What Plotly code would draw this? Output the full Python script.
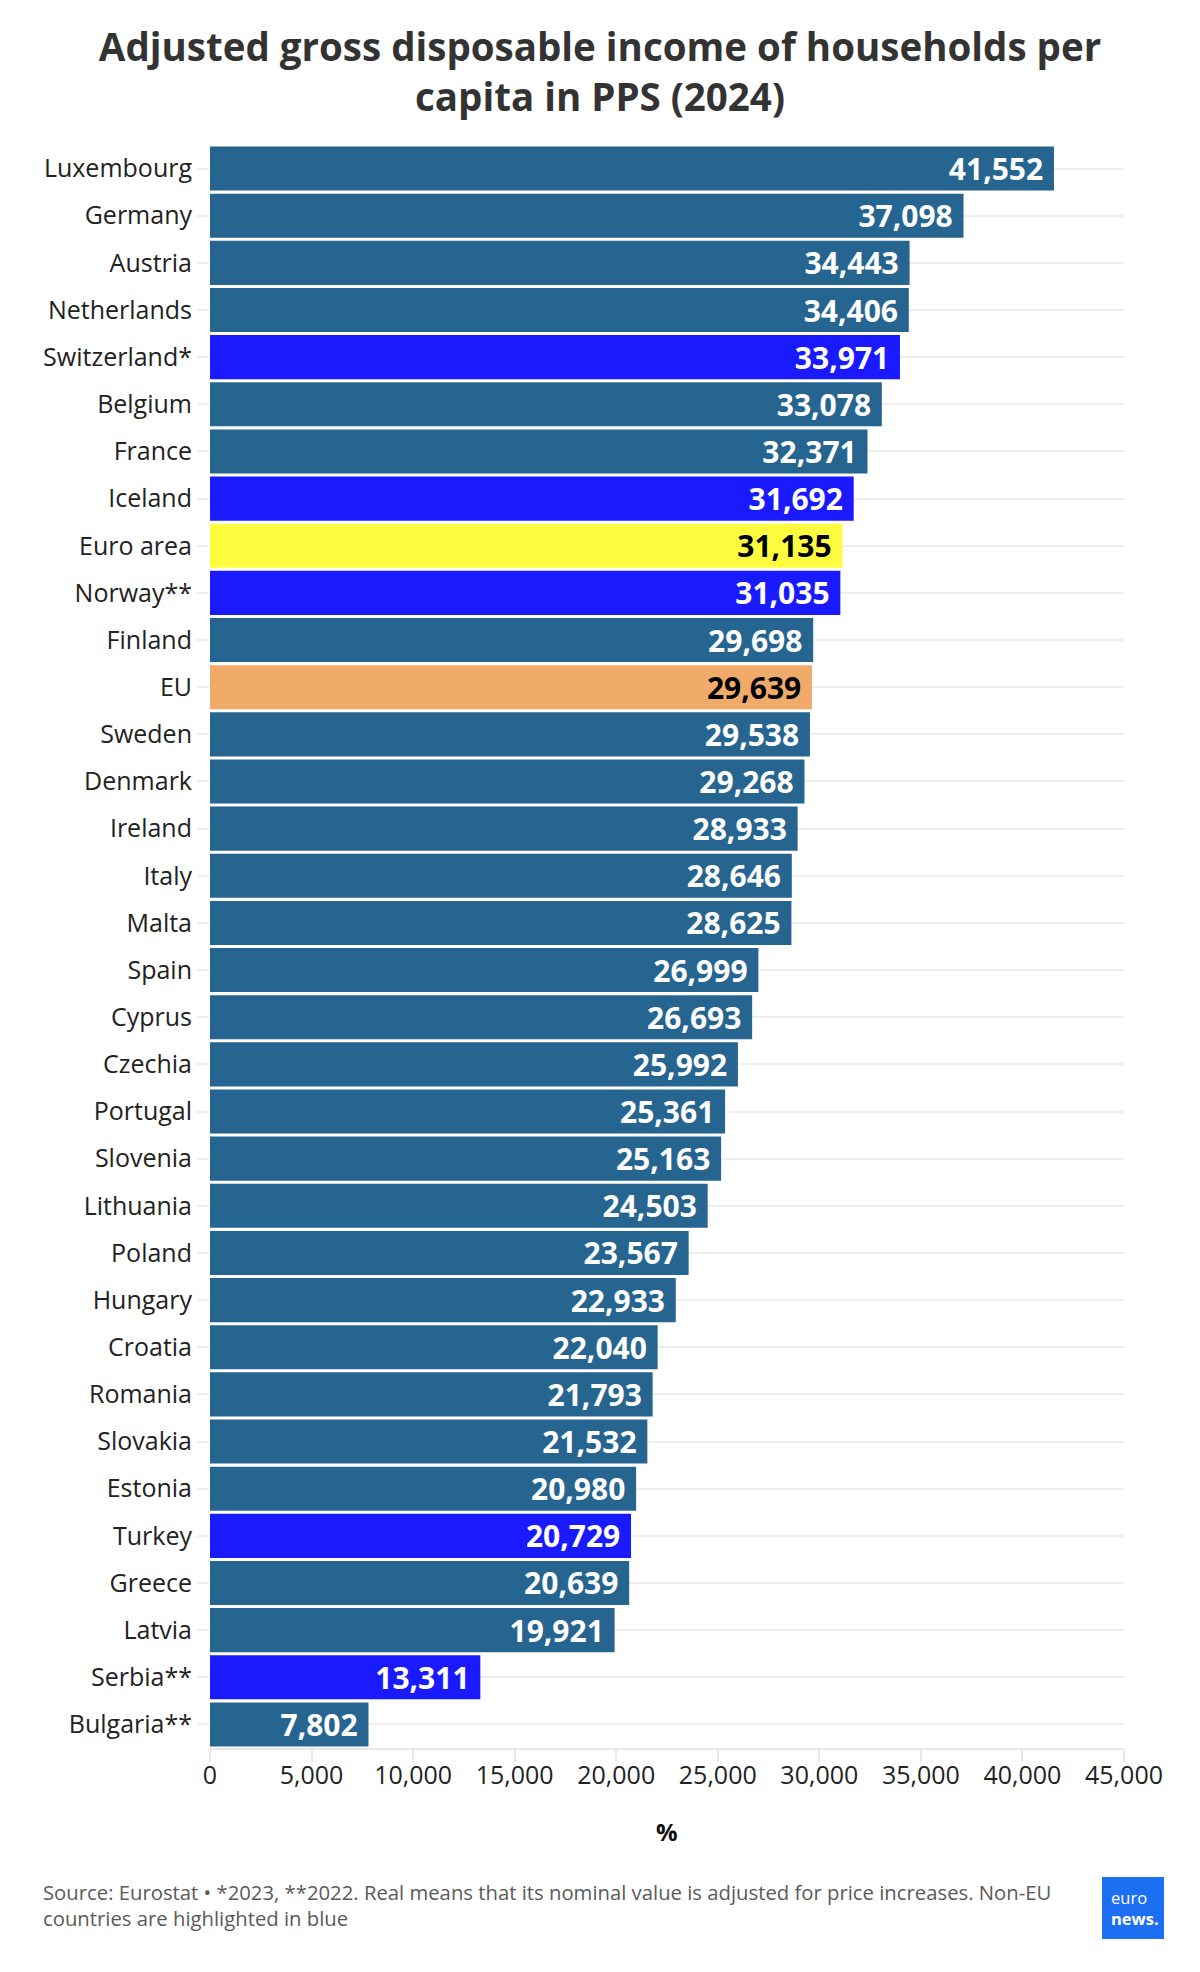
import plotly.graph_objects as go

countries = ["Luxembourg", "Germany", "Austria", "Netherlands", "Switzerland*", "Belgium",
             "France", "Iceland", "Euro area", "Norway**", "Finland", "EU", "Sweden", "Denmark",
             "Ireland", "Italy", "Malta", "Spain", "Cyprus", "Czechia", "Portugal", "Slovenia",
             "Lithuania", "Poland", "Hungary", "Croatia", "Romania", "Slovakia", "Estonia",
             "Turkey", "Greece", "Latvia", "Serbia**", "Bulgaria**"]
values = [41552, 37098, 34443, 34406, 33971, 33078, 32371, 31692, 31135, 31035, 29698, 29639,
          29538, 29268, 28933, 28646, 28625, 26999, 26693, 25992, 25361, 25163, 24503, 23567,
          22933, 22040, 21793, 21532, 20980, 20729, 20639, 19921, 13311, 7802]
non_eu = ["Switzerland*", "Iceland", "Norway**", "Turkey", "Serbia**"]
x_ticks = [0, 5000, 10000, 15000, 20000, 25000, 30000, 35000, 40000, 45000]

C_DEFAULT = "#276591"
C_NONEU = "#1a1aff"
C_EA = "#fdfc3f"
C_EU = "#f0aa6a"

colors, tcolors = [], []
for c in countries:
    if c == "Euro area":
        colors.append(C_EA); tcolors.append("#000000")
    elif c == "EU":
        colors.append(C_EU); tcolors.append("#000000")
    elif c in non_eu:
        colors.append(C_NONEU); tcolors.append("#ffffff")
    else:
        colors.append(C_DEFAULT); tcolors.append("#ffffff")

FONT = "Open Sans"

fig = go.Figure(go.Bar(
    x=values, y=countries, orientation="h",
    marker=dict(color=colors, line=dict(width=0)),
    text=[f"{v:,} " for v in values],
    textposition="inside", insidetextanchor="end", constraintext="none",
    textfont=dict(family=FONT, size=30, color=tcolors, weight="bold"),
    cliponaxis=False,
))

fig.update_layout(
    width=1200, height=1972,
    margin=dict(l=210, r=76, t=145, b=224),
    paper_bgcolor="white", plot_bgcolor="white",
    bargap=0.065,
    showlegend=False,
    font=dict(family=FONT, color="#222222"),
    title=dict(
        text="<b>Adjusted gross disposable income of households per<br>capita in PPS (2024)</b>",
        x=0.5, xanchor="center", xref="container",
        y=1 - 61 / 1972, yanchor="middle", yref="container",
        font=dict(family=FONT, size=38.5, color="#333333"),
    ),
    xaxis=dict(
        range=[0, 45000], tickvals=x_ticks, tickformat=",",
        showgrid=False, zeroline=False,
        showline=True, linecolor="#e8e8e8", linewidth=2,
        ticks="outside", ticklen=12, tickcolor="#e8e8e8", tickwidth=2,
        ticklabelstandoff=-8,
        tickfont=dict(family=FONT, size=25, color="#222222"),
    ),
    yaxis=dict(
        categoryorder="array", categoryarray=countries[::-1],
        showgrid=True, gridcolor="#eeeeee", gridwidth=2,
        ticks="outside", ticklen=12, tickcolor="#eeeeee", tickwidth=2,
        tickfont=dict(family=FONT, size=25, color="#222222"),
        showline=False, zeroline=False,
    ),
)

fig.add_annotation(
    text="<b>%</b>", xref="paper", yref="paper", x=0.5, y=-83 / 1603,
    xanchor="center", yanchor="middle", showarrow=False,
    font=dict(family=FONT, size=24, color="#111111"),
)

fig.add_annotation(
    text="Source: Eurostat • *2023, **2022. Real means that its nominal value is adjusted for price increases. Non-EU<br>countries are highlighted in blue",
    xref="paper", yref="paper", x=(41 - 210) / 914, y=-(1876 - 1748) / 1603,
    xanchor="left", yanchor="top", align="left", showarrow=False,
    font=dict(family=FONT, size=20.3, color="#5a5a5a"),
)

# euronews logo
fig.add_shape(type="rect", xref="paper", yref="paper",
              x0=(1102 - 210) / 914, x1=(1164 - 210) / 914,
              y0=-(1939 - 1748) / 1603, y1=-(1877 - 1748) / 1603,
              fillcolor="#1c6ef2", line=dict(width=0))
fig.add_annotation(
    text="euro<br><b>news.</b>", xref="paper", yref="paper",
    x=(1109 - 210) / 914, y=-(1908 - 1748) / 1603,
    xanchor="left", yanchor="middle", align="left", showarrow=False,
    font=dict(family=FONT, size=16.5, color="white"),
)

fig.write_html("out.html")
